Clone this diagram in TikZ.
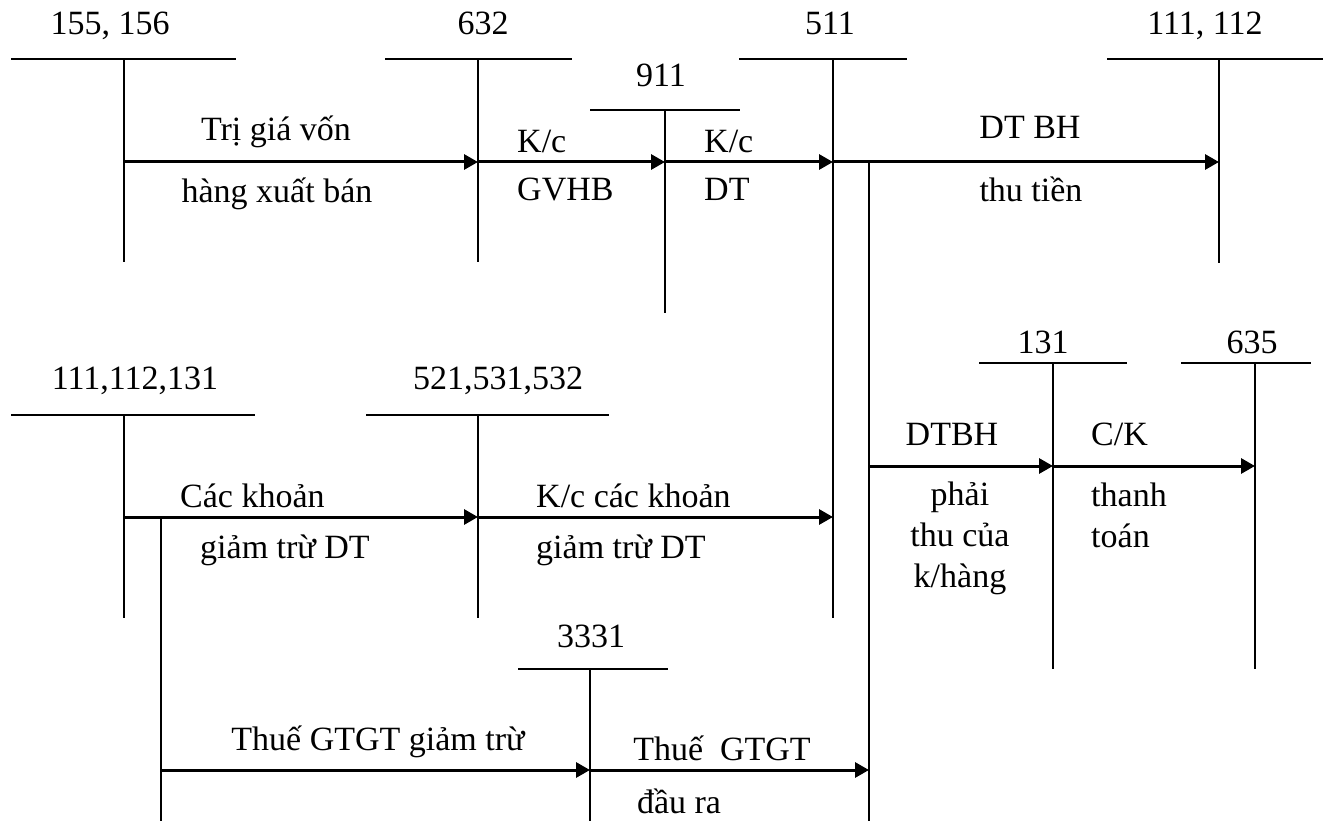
\documentclass[tikz,border=0pt]{standalone}
\usepackage{fontspec}
\setmainfont{Liberation Serif}
\usetikzlibrary{arrows.meta}
\tikzset{
	tline/.style={line width=1.8pt},
	flow/.style={-{Triangle[length=14pt, width=15pt]}, line width=3pt},
	acct/.style={anchor=base, inner sep=0pt},
	note/.style={anchor=base, inner sep=0pt},
	notew/.style={anchor=base west, inner sep=0pt},
}
\begin{document}
\begin{tikzpicture}[x=1pt, y=-1pt, font=\fontsize{34}{41}\selectfont]
	\useasboundingbox (0,0) rectangle (1331,821);
	% levels of the entries
	\coordinate (r1) at (0,162);
	\coordinate (r2) at (0,517);
	\coordinate (r3) at (0,466);
	\coordinate (r4) at (0,770);
	% T-accounts, upper row
	\coordinate (t155) at (124,59);
	\coordinate (t632) at (478,59);
	\coordinate (t911) at (665,110);
	\coordinate (t511) at (833,59);
	\coordinate (t111) at (1219,59);
	\draw[tline] (11,59) -- (236,59) (t155) -- (124,262);
	\draw[tline] (385,59) -- (572,59) (t632) -- (478,262);
	\draw[tline] (590,110) -- (740,110) (t911) -- (665,313);
	\draw[tline] (739,59) -- (907,59) (t511) -- (833,618);
	\draw[tline] (1107,59) -- (1323,59) (t111) -- (1219,263);
	\node[acct] (n155) at (110,35) {155, 156};
	\node[acct] (n632) at (483,35) {632};
	\node[acct] (n911) at (661,87) {911};
	\node[acct] (n511) at (830,35) {511};
	\node[acct] (n111) at (1205,35) {111, 112};
	% T-accounts, lower rows
	\coordinate (t131k) at (124,415);
	\coordinate (t521) at (478,415);
	\coordinate (t131) at (1053,363);
	\coordinate (t635) at (1255,363);
	\coordinate (t3331) at (590,669);
	\draw[tline] (11,415) -- (255,415) (t131k) -- (124,618);
	\draw[tline] (366,415) -- (609,415) (t521) -- (478,618);
	\draw[tline] (979,363) -- (1127,363) (t131) -- (1053,669);
	\draw[tline] (1181,363) -- (1311,363) (t635) -- (1255,669);
	\draw[tline] (518,669) -- (668,669) (t3331) -- (590,821);
	\node[acct] (n131k) at (135,389) {111,112,131};
	\node[acct] (n521) at (498,389) {521,531,532};
	\node[acct] (n131) at (1043,353) {131};
	\node[acct] (n635) at (1252,353) {635};
	\node[acct] (n3331) at (591,647) {3331};
	% branch lines
	\coordinate (b511) at (869,162);
	\coordinate (b131k) at (161,517);
	\draw[tline] (b511) -- (869,821);
	\draw[tline] (b131k) -- (161,821);
	% entries
	\draw[flow] (t155 |- r1) -- (t632 |- r1);
	\draw[flow] (t632 |- r1) -- (t911 |- r1);
	\draw[flow] (t911 |- r1) -- (t511 |- r1);
	\draw[flow] (t511 |- r1) -- (t111 |- r1);
	\draw[flow] (t131k |- r2) -- (t521 |- r2);
	\draw[flow] (t521 |- r2) -- (t511 |- r2);
	\draw[flow] (b511 |- r3) -- (t131 |- r3);
	\draw[flow] (t131 |- r3) -- (t635 |- r3);
	\draw[flow] (b131k |- r4) -- (t3331 |- r4);
	\draw[flow] (t3331 |- r4) -- (b511 |- r4);
	% texts of the entries
	\node[note] (lTrigia) at (276,141) {Trị giá vốn};
	\node[note] (lHang) at (277,203) {hàng xuất bán};
	\node[notew] (lKc1) at (517,153) {K/c};
	\node[notew] (lGvhb) at (517,201) {GVHB};
	\node[notew] (lKc2) at (704,153) {K/c};
	\node[notew] (lDt) at (704,201) {DT};
	\node[note] (lDtbh) at (1030,139) {DT BH};
	\node[note] (lThu) at (1031,202) {thu tiền};
	\node[notew] (lCac) at (180,507) {Các khoản};
	\node[notew] (lGiam1) at (200,558) {giảm trừ DT};
	\node[notew] (lKcCac) at (536,507) {K/c các khoản};
	\node[notew] (lGiam2) at (536,558) {giảm trừ DT};
	\node[note] (lDtbh2) at (952,445) {DTBH};
	\node[note, align=center] (lPhai) at (960,587) {phải\\thu của\\k/hàng};
	\node[notew] (lCK) at (1091,445) {C/K};
	\node[notew, align=left] (lThanh) at (1091,547) {thanh\\toán};
	\node[note] (lThue1) at (378,750) {Thuế GTGT giảm trừ};
	\node[note] (lThue2) at (722,760) {Thuế\ \ GTGT};
	\node[note] (lDaura) at (679,813) {đầu ra};
\end{tikzpicture}
\end{document}
